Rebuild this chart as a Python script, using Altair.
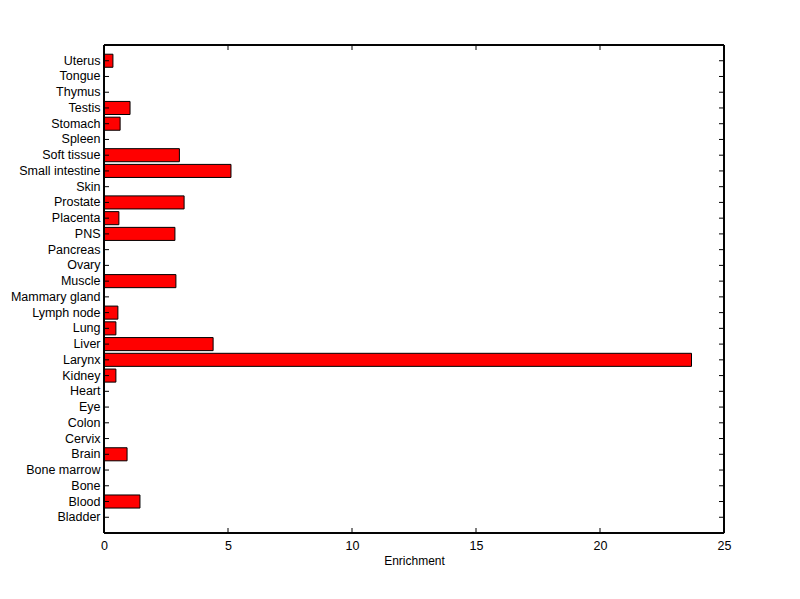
import altair as alt
import pandas as pd

tissues = ["Bladder", "Blood", "Bone", "Bone marrow", "Brain", "Cervix", "Colon", "Eye",
           "Heart", "Kidney", "Larynx", "Liver", "Lung", "Lymph node", "Mammary gland",
           "Muscle", "Ovary", "Pancreas", "PNS", "Placenta", "Prostate", "Skin",
           "Small intestine", "Soft tissue", "Spleen", "Stomach", "Testis", "Thymus",
           "Tongue", "Uterus"]
enrichment = [0, 1.45, 0, 0, 0.93, 0, 0, 0, 0, 0.48, 23.69, 4.40, 0.48, 0.56, 0,
              2.90, 0, 0, 2.86, 0.60, 3.23, 0, 5.12, 3.04, 0, 0.65, 1.05, 0, 0, 0.36]
xticks = [0, 5, 10, 15, 20, 25]

order = list(reversed(tissues))  # Uterus on top
df = pd.DataFrame({"Tissue": tissues, "Enrichment": enrichment})
bars_df = df[df["Enrichment"] > 0]
tick_df = pd.DataFrame({"t": xticks})

W, H = 620, 488
font = "Liberation Sans"

yscale = alt.Scale(domain=order, paddingInner=0.17, paddingOuter=0.585)
xscale = alt.Scale(domain=[0, 25], nice=False)

bars = alt.Chart(bars_df).mark_bar(color="#ff0000", stroke="black", strokeWidth=1).encode(
    x=alt.X("Enrichment:Q", scale=xscale,
            axis=alt.Axis(values=xticks, ticks=False, domain=False, grid=False,
                          title="Enrichment", labelFont=font, labelFontSize=12.5,
                          titleFont=font, titleFontSize=12, titleFontWeight="normal",
                          labelFlush=False, labelPadding=6, titlePadding=4,
                          labelColor="black", titleColor="black")),
    y=alt.Y("Tissue:N", scale=yscale, sort=order,
            axis=alt.Axis(ticks=False, domain=False, grid=False, title=None,
                          labelFont=font, labelFontSize=12.5, labelPadding=4, labelColor="black")),
)

frame = alt.Chart(tick_df).mark_rect(fill=None, stroke="black", strokeWidth=1).encode(
    x=alt.value(0), x2=alt.value(W), y=alt.value(0), y2=alt.value(H))

yl = alt.Chart(df).mark_rule(color="black", strokeWidth=1).encode(
    y=alt.Y("Tissue:N", scale=yscale, sort=order),
    x=alt.value(0), x2=alt.value(5))
yr = alt.Chart(df).mark_rule(color="black", strokeWidth=1).encode(
    y=alt.Y("Tissue:N", scale=yscale, sort=order),
    x=alt.value(W - 5), x2=alt.value(W))
xb = alt.Chart(tick_df).mark_rule(color="black", strokeWidth=1).encode(
    x=alt.X("t:Q", scale=xscale), y=alt.value(H - 5), y2=alt.value(H))
xt = alt.Chart(tick_df).mark_rule(color="black", strokeWidth=1).encode(
    x=alt.X("t:Q", scale=xscale), y=alt.value(0), y2=alt.value(5))

chart = alt.layer(bars, frame, yl, yr, xb, xt).properties(
    width=W, height=H,
    autosize=alt.AutoSizeParams(type="none"),
    padding={"left": 96, "top": 37, "right": 60, "bottom": 60},
).configure_view(stroke=None).configure(background="white")

chart.save("out.html", embed_options={"renderer": "svg", "actions": False})
